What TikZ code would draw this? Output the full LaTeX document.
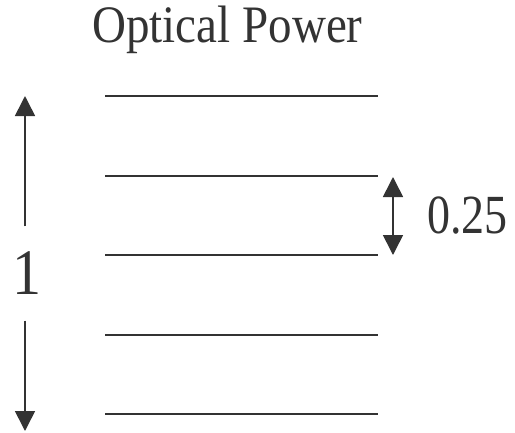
\documentclass[tikz,border=0pt]{standalone}
\usepackage{fontspec}
\setmainfont{Liberation Serif}
\usetikzlibrary{arrows.meta}
\definecolor{ink}{gray}{0.2}
\begin{document}
\begin{tikzpicture}[x=1pt,y=1pt,
  level/.style={draw=ink,line width=1.6pt},
  arr/.style={draw=ink,line width=1.6pt,-{Triangle[width=20pt,length=20pt]}},
  darr/.style={draw=ink,line width=1.6pt,{Triangle[width=20pt,length=20pt]}-{Triangle[width=20pt,length=20pt]}},
  txt/.style={text=ink,inner sep=0pt,anchor=base}]
\useasboundingbox (0,0) rectangle (515,-432);
% title
\node[txt] (title) at (227.5,-42) {\fontsize{47}{50}\selectfont\scalebox{1}[1.12]{Optical Power}};
% level lines
\foreach \y [count=\i] in {96,176,255,335,414}{
  \coordinate (l\i a) at (105,-\y);
  \coordinate (l\i b) at (378,-\y);
  \draw[level] (l\i a) -- (l\i b);
}
% left arrow with label 1
\coordinate (top) at (25,-96);
\coordinate (bot) at (25,-431);
\node[text=ink,inner sep=0pt,minimum height=94pt] (one) at (27,-273.5) {\fontsize{58}{60}\selectfont\scalebox{1}[1.12]{1}};
\draw[arr] (one.north -| top) -- (top);
\draw[arr] (one.south -| bot) -- (bot);
% small arrow 0.25
\coordinate (st) at (393,-177);
\coordinate (sb) at (393,-255);
\draw[darr] (sb) -- (st);
\node[txt,anchor=base west] (q) at (427,-233) {\fontsize{46}{50}\selectfont\scalebox{1}[1.2]{0.25}};
\end{tikzpicture}
\end{document}
